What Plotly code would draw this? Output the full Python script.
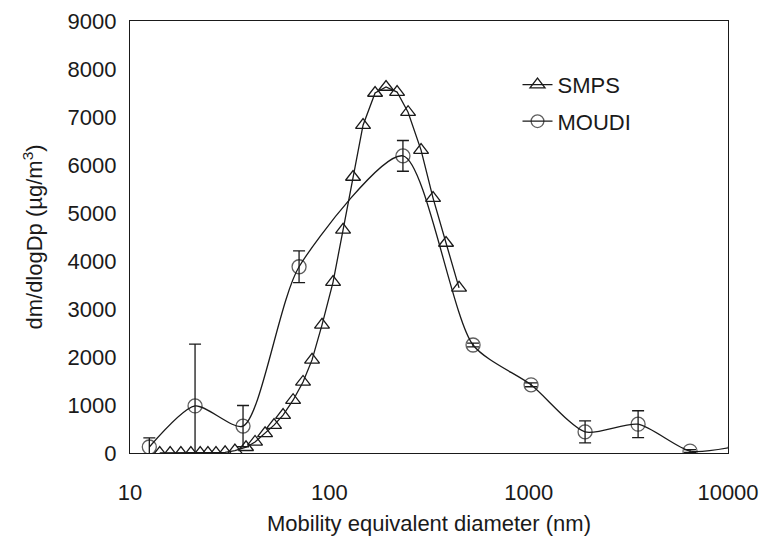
import plotly.graph_objects as go

# SMPS data
smps_d = [14.1, 15.9, 18.0, 20.2, 22.5, 24.6, 27.0, 30.0, 33.6, 38.2, 42.4, 47.6, 52.8,
          58.6, 65.8, 73.8, 81.9, 91.9, 104.4, 117.2, 131.5, 147.6, 169.6, 192.5, 218.7,
          248.3, 288.5, 331.4, 385.0, 447.5]
smps_m = [0, 0, 0, 0, 0, 0, 0, 15, 50, 120, 230, 410, 580, 790, 1100, 1480, 1940, 2670,
          3560, 4650, 5750, 6830, 7500, 7625, 7520, 7100, 6310, 5310, 4375, 3440]

# MOUDI data (last point only continues the curve past the axis)
moudi_d = [12.5, 21.2, 36.9, 70.5, 234, 526, 1028, 1919, 3540, 6450, 10700]
moudi_m = [125, 980, 560, 3880, 6190, 2250, 1420, 440, 600, 40, 130]
moudi_err = [190, 1290, 430, 330, 320, 40, 40, 230, 280, 30, 0]
moudi_size = [14, 14, 14, 14, 14, 14, 14, 14, 14, 14, 0]

x_tickvals = [10, 100, 1000, 10000]
x_ticktext = ["10", "100", "1000", "10000"]

FONT = "Liberation Sans, Arial, sans-serif"
INK = "#1a1a1a"

fig = go.Figure()
fig.add_trace(go.Scatter(
    x=smps_d, y=smps_m, name="SMPS", mode="lines+markers",
    line=dict(color=INK, width=1.3),
    marker=dict(symbol="triangle-up-open", size=13, color=INK, line=dict(width=1.3)),
    legendgroup="a",
))
fig.add_trace(go.Scatter(
    x=moudi_d, y=moudi_m, name="MOUDI", mode="lines+markers",
    line=dict(color=INK, width=1.3, shape="spline", smoothing=0.7),
    marker=dict(symbol="circle-open", size=moudi_size, color=INK, line=dict(width=1.3)),
    error_y=dict(type="data", array=moudi_err, visible=True, color=INK, thickness=1.3, width=6),
    legendgroup="b",
))

fig.update_layout(
    width=762, height=542,
    margin=dict(l=130, r=34, t=21, b=89),
    paper_bgcolor="white", plot_bgcolor="white",
    font=dict(family=FONT, size=22, color=INK),
    showlegend=True,
    legend=dict(x=0.648, y=0.901, xanchor="left", yanchor="top",
                bgcolor="rgba(0,0,0,0)", font=dict(size=22),
                traceorder="grouped", tracegroupgap=5, itemwidth=30),
    xaxis=dict(type="log", range=[1, 4], tickvals=x_tickvals, ticktext=x_ticktext,
               showgrid=False, zeroline=False, showline=True, linecolor=INK,
               linewidth=1.2, mirror=True, ticks="", ticklabelstandoff=19,
               automargin=False,
               title=dict(text="Mobility equivalent diameter (nm)", standoff=12,
                          font=dict(size=22))),
    yaxis=dict(range=[0, 9000], dtick=1000, showgrid=False, zeroline=False,
               showline=True, linecolor=INK, linewidth=1.2, mirror=True, ticks="",
               ticklabelstandoff=8, automargin=False,
               title=dict(text="dm/dlogDp (µg/m<sup>3</sup>)", standoff=18,
                          font=dict(size=22))),
)

fig.write_html("out.html")
